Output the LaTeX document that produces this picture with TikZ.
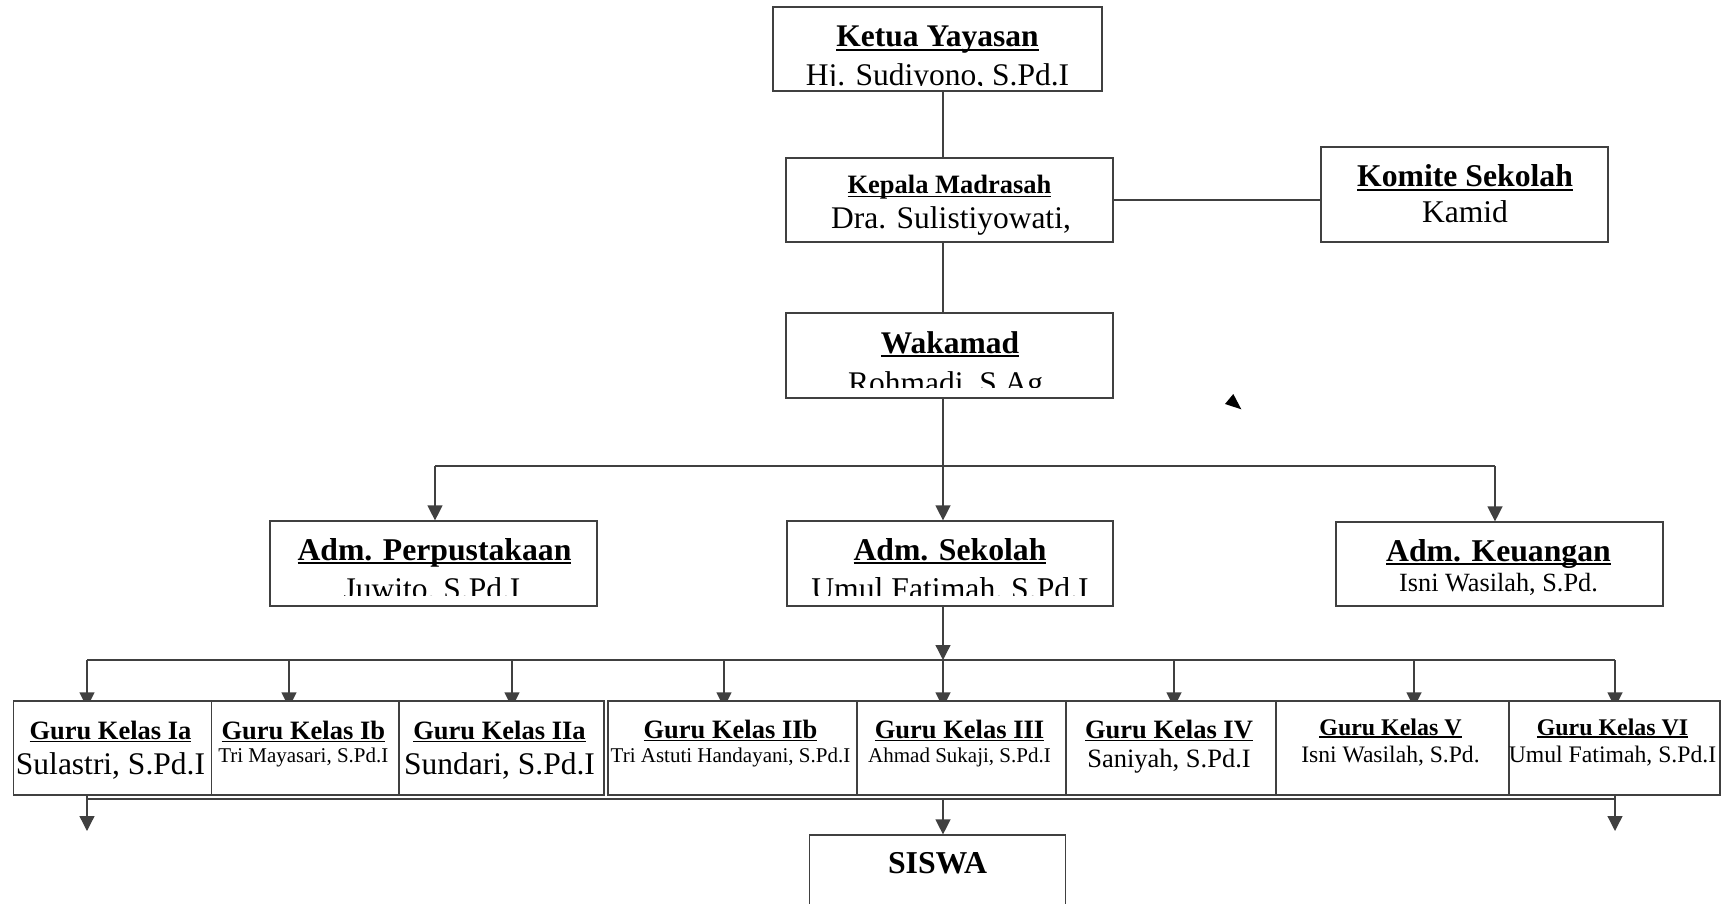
\documentclass[tikz,border=0pt]{standalone}
\usepackage{fontspec}
\setmainfont{Liberation Serif}
\usetikzlibrary{arrows.meta,backgrounds}

\newcommand\uln[1]{\setbox0\hbox{#1}\rlap{\rule[-0.12em]{\wd0}{0.06em}}\box0}

\tikzset{
  orgbox/.style={rectangle,draw=black!75,line width=1.2pt,fill=white,inner sep=0pt},
  ttl/.style={anchor=base,inner sep=0pt,font=\bfseries\fontsize{#1}{#1}\selectfont},
  nm/.style={anchor=base,inner sep=0pt,font=\fontsize{#1}{#1}\selectfont},
  link/.style={draw=black!75,line width=1.3pt},
  arr/.style={link,-{Triangle[width=15pt,length=15pt]}}
}

\begin{document}
\begin{tikzpicture}[x=1pt,y=-1pt]
  \path[use as bounding box,clip] (0,0) rectangle (1730,904);

  % pimpinan
  \node[orgbox,minimum width=329pt,minimum height=84pt] (ketua) at (937.5,49) {};
  \node[ttl=31.5] (ketua-t) at (937.5,47) {\uln{Ketua Yayasan}};
  \begin{scope}
    \clip (773,7) rectangle (1102,86);
    \node[nm=31.5] (ketua-n) at (937.5,85.5) {Hj. Sudiyono, S.Pd.I};
  \end{scope}

  \node[orgbox,minimum width=327pt,minimum height=84pt] (kepala) at (949.5,200) {};
  \node[ttl=26.5] (kepala-t) at (949.5,194) {\uln{Kepala Madrasah}};
  \node[nm=31.5] (kepala-n) at (951,229) {Dra. Sulistiyowati,};

  \node[orgbox,minimum width=287pt,minimum height=95pt] (komite) at (1464.5,194.5) {};
  \node[ttl=31.7] (komite-t) at (1465,187) {\uln{Komite Sekolah}};
  \node[nm=31.6] (komite-n) at (1465,223) {Kamid};

  \node[orgbox,minimum width=327pt,minimum height=85pt] (wakamad) at (949.5,355.5) {};
  \node[ttl=31.5] (wakamad-t) at (950,353) {\uln{Wakamad}};
  \begin{scope}
    \clip (786,313) rectangle (1113,387);
    \node[nm=31.5] (wakamad-n) at (949.5,393) {Rohmadi, S.Ag.};
  \end{scope}

  % administrasi
  \node[orgbox,minimum width=327pt,minimum height=85pt] (perpus) at (433.5,563.5) {};
  \node[ttl=31.7] (perpus-t) at (434.5,560) {\uln{Adm. Perpustakaan}};
  \begin{scope}
    \clip (270,521) rectangle (597,595);
    \node[nm=31.5] (perpus-n) at (432,599) {Juwito, S.Pd.I};
  \end{scope}

  \node[orgbox,minimum width=326pt,minimum height=85pt] (sekolah) at (950,563.5) {};
  \node[ttl=31.7] (sekolah-t) at (950,560) {\uln{Adm. Sekolah}};
  \begin{scope}
    \clip (787,521) rectangle (1113,595);
    \node[nm=31.7] (sekolah-n) at (950,599) {Umul Fatimah, S.Pd.I};
  \end{scope}

  \node[orgbox,minimum width=327pt,minimum height=84pt] (keuangan) at (1499.5,564) {};
  \node[ttl=31.7] (keuangan-t) at (1498.5,561) {\uln{Adm. Keuangan}};
  \node[nm=26.3] (keuangan-n) at (1498.5,591) {Isni Wasilah, S.Pd.};

  % guru kelas
  \foreach \id/\xa/\xb/\ax/\head/\hs/\hb/\who/\ws/\wb in {
    ia/13.3/211.7/87/{Guru Kelas Ia}/26.5/739/{Sulastri, S.Pd.I}/31.5/774,
    ib/211.7/399/289/{Guru Kelas Ib}/26.5/739/{Tri Mayasari, S.Pd.I}/21/762,
    iia/399/604/512/{Guru Kelas IIa}/26.5/739/{Sundari, S.Pd.I}/31.5/774,
    iib/608/857/724/{Guru Kelas IIb}/26.5/738/{Tri Astuti Handayani, S.Pd.I}/21/762,
    iii/857/1066/943/{Guru Kelas III}/26.5/738/{Ahmad Sukaji, S.Pd.I}/21/762,
    iv/1066/1276/1174/{Guru Kelas IV}/26.5/738/{Saniyah, S.Pd.I}/26.5/767,
    v/1276/1509/1414/{Guru Kelas V}/23.9/735/{Isni Wasilah, S.Pd.}/23.6/762,
    vi/1509/1720/1615/{Guru Kelas VI}/23.9/735/{Umul Fatimah, S.Pd.I}/23.7/762}
  {
    \node[orgbox,minimum width=\xb pt-\xa pt,minimum height=94pt] (g\id) at ({(\xa+\xb)/2},748) {};
    \node[ttl=\hs] (g\id-t) at ({(\xa+\xb)/2-2},\hb) {\uln{\head}};
    \node[nm=\ws] (g\id-n) at ({(\xa+\xb)/2-2},\wb) {\who};
    \coordinate (ga\id) at (\ax,660);
    \begin{scope}[on background layer]
      \draw[arr,shorten >=-7pt] (ga\id) -- (ga\id |- g\id.north);
    \end{scope}
  }

  \node[orgbox,minimum width=256.4pt,minimum height=95pt] (siswa) at (937.5,882.5) {};
  \node[ttl=31.8] (siswa-t) at (937.5,873) {SISWA};

  % garis
  \coordinate (spine) at (943,0);
  \coordinate (adm-l) at (435,466);
  \coordinate (adm-r) at (1495,466);
  \coordinate (guru-l) at (87,660);
  \coordinate (guru-r) at (1615,660);
  \coordinate (siswa-l) at (87,799);
  \coordinate (siswa-r) at (1615,799);
  \coordinate (out-l) at (87,831);
  \coordinate (out-r) at (1615,831);

  \begin{scope}[on background layer]
    \draw[link] (ketua.south -| spine) -- (kepala.north -| spine);
    \draw[link] (kepala.south -| spine) -- (wakamad.north -| spine);
    \draw[link] (kepala.east) -- (kepala.east -| komite.west);
    \draw[link] (wakamad.south -| spine) -- (adm-l -| spine);
    \draw[link] (adm-l) -- (adm-r);
    \draw[arr] (adm-l) -- (adm-l |- perpus.north);
    \draw[arr] (adm-l -| spine) -- (sekolah.north -| spine);
    \draw[arr] (adm-r) -- (adm-r |- keuangan.north);
    \draw[arr] (sekolah.south -| spine) -- (guru-l -| spine);
    \draw[link] (guru-l) -- (guru-r);
    \draw[link] (siswa-l) -- (siswa-r);
    \draw[arr] (gia.south -| out-l) -- (out-l);
    \draw[arr] (gvi.south -| out-r) -- (out-r);
    \draw[arr] (siswa-l -| spine) -- (siswa.north -| spine);
  \end{scope}

  % ujung panah lepas
  \fill[black] (1233.3,394) -- (1225,404) -- (1241.3,409.3) -- cycle;
\end{tikzpicture}
\end{document}
